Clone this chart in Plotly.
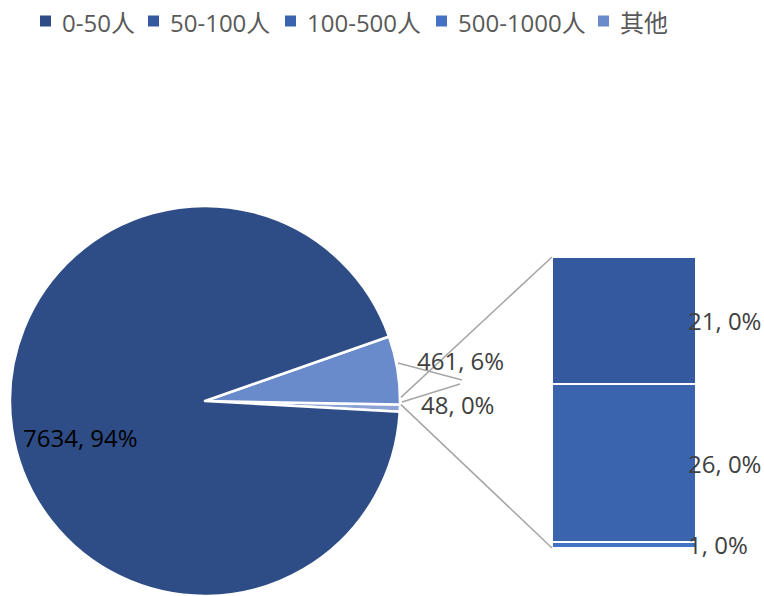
import math
import plotly.graph_objects as go

# ---- data ----
pie_labels = ["其余合计", "其他", "0-50人"]
pie_values = [48, 461, 7634]
pie_texts = ["48, 0%", "461, 6%", "7634, 94%"]

bar_labels = ["500-1000人", "100-500人", "50-100人"]   # bottom -> top
bar_values = [1, 26, 21]
bar_texts = ["1, 0%", "26, 0%", "21, 0%"]

legend_names = ["0-50人", "50-100人", "100-500人", "500-1000人", "其他"]
legend_colors = ["#2E4D87", "#34599E", "#3A64AE", "#4472C4", "#6A8BCB"]

pie_colors = ["#8EA3D6", "#6A8BCB", "#2E4D87"]
bar_colors = ["#4472C4", "#3A64AE", "#34599E"]

# ---- layout (pixels) ----
W, H = 764, 596
FONT = "Open Sans, Noto Sans CJK SC, sans-serif"
FS = 24
cx, cy, R = 205, 401, 195
bar_x0, bar_x1, bar_y_top, bar_y_bot = 552, 696, 257, 548
legend_marker_x = [40, 148, 285, 436, 598]
legend_y = 21


def px(x):
    return x / W


def py(y):
    return 1 - y / H


total = sum(pie_values)
half_other = pie_values[0] / total * 360 / 2

fig = go.Figure()

fig.add_trace(go.Pie(
    labels=pie_labels, values=pie_values, sort=False,
    direction="counterclockwise", rotation=90 + half_other,
    marker=dict(colors=pie_colors, line=dict(color="white", width=2.5)),
    textinfo="none", hoverinfo="label+value", showlegend=False,
    domain=dict(x=[px(cx - R), px(cx + R)], y=[py(cy + R), py(cy - R)]),
))

for lab, val, col in zip(bar_labels, bar_values, bar_colors):
    fig.add_trace(go.Bar(
        x=[0], y=[val], name=lab,
        marker=dict(color=col, line=dict(color="white", width=2.5)),
        width=1, showlegend=False, xaxis="x", yaxis="y",
    ))

bar_total = sum(bar_values)
annotations = []
shapes = []

# bar labels
cum = 0
for val, txt in zip(bar_values, bar_texts):
    annotations.append(dict(
        x=0.5, y=cum + val / 2, xref="x", yref="y", text=txt, showarrow=False,
        xanchor="left", yanchor="middle", xshift=-10,
        font=dict(size=FS, color="#404040", family=FONT),
    ))
    cum += val


def label(x, y, text, color="#404040"):
    annotations.append(dict(x=px(x), y=py(y), xref="paper", yref="paper", text=text,
                            showarrow=False, xanchor="left", yanchor="middle",
                            font=dict(size=FS, color=color, family=FONT)))


# pie labels
label(21, 437, pie_texts[2], "#000000")
label(415, 360, pie_texts[1])
label(419, 404, pie_texts[0])

# legend (manual, to match spacing)
for mx, name, col in zip(legend_marker_x, legend_names, legend_colors):
    shapes.append(dict(type="rect", xref="paper", yref="paper",
                       x0=px(mx), x1=px(mx + 11), y0=py(legend_y + 5.5), y1=py(legend_y - 5.5),
                       fillcolor=col, line=dict(width=0)))
    label(mx + 20, legend_y + 1, name, "#595959")

# connector lines from the combined slice to the bar
a_top = math.radians(half_other)
for ang, yb in ((a_top, bar_y_top), (-a_top, bar_y_bot)):
    sx, sy = cx + (R + 1) * math.cos(ang), cy - (R + 1) * math.sin(ang)
    shapes.append(dict(type="line", xref="paper", yref="paper", x0=px(sx), y0=py(sy),
                       x1=px(bar_x0), y1=py(yb), line=dict(color="#A6A6A6", width=1.5)))

# leader lines for the small pie labels
shapes.append(dict(type="line", xref="paper", yref="paper",
                   x0=px(398), y0=py(363), x1=px(462), y1=py(380),
                   line=dict(color="#A6A6A6", width=1.5)))
shapes.append(dict(type="line", xref="paper", yref="paper",
                   x0=px(cx + R + 2), y0=py(cy + 1), x1=px(460), y1=py(384),
                   line=dict(color="#A6A6A6", width=1.5)))

fig.update_layout(
    width=W, height=H, margin=dict(l=0, r=0, t=0, b=0),
    paper_bgcolor="white", plot_bgcolor="white",
    barmode="stack", bargap=0, showlegend=False,
    font=dict(family=FONT, color="#595959", size=FS),
    xaxis=dict(domain=[px(bar_x0), px(bar_x1)], range=[-0.5, 0.5], visible=False, fixedrange=True),
    yaxis=dict(domain=[py(bar_y_bot), py(bar_y_top)], range=[0, bar_total], visible=False,
               fixedrange=True),
    annotations=annotations, shapes=shapes,
)

fig.write_html("out.html", config={"displayModeBar": False},
               post_script="document.body.style.margin='0';document.body.style.overflow='hidden';")
